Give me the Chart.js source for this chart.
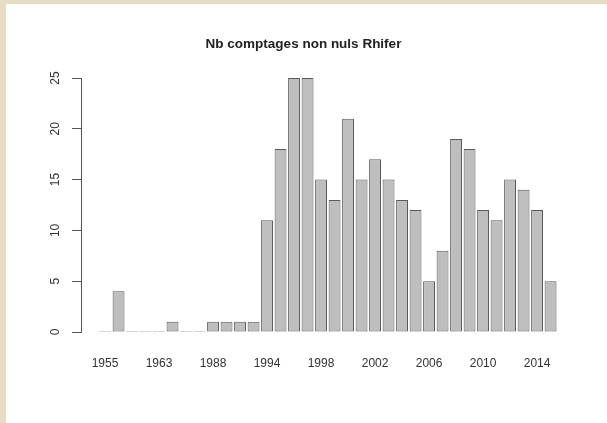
<!DOCTYPE html>
<html>
<head>
<meta charset="utf-8">
<script src="https://cdn.jsdelivr.net/npm/chart.js@4/dist/chart.umd.min.js"></script>
<style>
  html, body { margin: 0; padding: 0; background: #e6ddc6; }
  #panel { position: absolute; left: 6px; top: 4px; width: 601px; height: 419px; background: #fff; }
  #myChart { position: absolute; left: 0; top: 0; }
</style>
</head>
<body>
<div id="panel"></div>
<canvas id="myChart" width="607" height="423"></canvas>
<script>
// years shown under the bars (only every 4th one is labelled in the picture)
var years = ["1955", "1956", "1957", "1958", "1963", "1964", "1975", "1980",
  "1988", "1989", "1990", "1991",
  "1994", "1995", "1996", "1997", "1998", "1999", "2000", "2001",
  "2002", "2003", "2004", "2005", "2006", "2007", "2008", "2009",
  "2010", "2011", "2012", "2013", "2014", "2015"];
var counts = [0, 4, 0, 0, 0, 1, 0, 0,
  1, 1, 1, 1,
  11, 18, 25, 25, 15, 13, 21, 15,
  17, 15, 13, 12, 5, 8, 19, 18,
  12, 11, 15, 14, 12, 5];
var yTicks = [0, 5, 10, 15, 20, 25];
var chartTitle = "Nb comptages non nuls Rhifer";

var ctx = document.getElementById("myChart").getContext('2d');
var myChart = new Chart(ctx, {
  type: 'bar',
  data: {
    datasets: [{
      data: counts.map(function (v, i) { return { x: i, y: v }; }),
      backgroundColor: "#bebebe",
      borderColor: "#5a5a5a",
      borderWidth: 1,
      borderSkipped: false,
      minBarLength: 1,
      categoryPercentage: 1,
      barPercentage: 0.88
    }]
  },
  options: {
    responsive: false,
    animation: false,
    layout: { padding: 0 },
    plugins: {
      legend: { display: false },
      tooltip: { enabled: false },
      title: {
        display: true,
        text: chartTitle,
        color: "#222",
        font: { family: "Liberation Sans, Arial, sans-serif", size: 13.5, weight: 'bold' },
        padding: { top: 36, bottom: 25.8 }
      }
    },
    scales: {
      x: {
        type: 'linear',
        offset: false,
        min: -1.78,
        max: 37.18,
        grid: { display: false, offset: false },
        border: { display: false },
        afterBuildTicks: function (scale) {
          scale.ticks = years.map(function (y, i) { return { value: i }; })
            .filter(function (t) { return t.value % 4 === 0; });
        },
        afterFit: function (scale) {
          scale.height = 91;
          scale.paddingLeft = 0;
          scale.paddingRight = 0;
        },
        ticks: {
          autoSkip: false,
          maxRotation: 0,
          padding: 16,
          color: "#333",
          font: { family: "Liberation Sans, Arial, sans-serif", size: 12 },
          callback: function (value) { return years[value]; }
        }
      },
      y: {
        min: 0,
        max: 25,
        afterBuildTicks: function (scale) {
          scale.ticks = yTicks.map(function (v) { return { value: v }; });
        },
        afterFit: function (scale) {
          scale.width = 81;
          scale.paddingTop = 0;
          scale.paddingBottom = 0;
        },
        border: { display: true, color: "#555", width: 1 },
        grid: { drawOnChartArea: false, drawTicks: true, tickLength: 9, color: "#555" },
        ticks: {
          minRotation: 90,
          maxRotation: 90,
          crossAlign: 'center',
          padding: 10,
          color: "#333",
          font: { family: "Liberation Sans, Arial, sans-serif", size: 12 }
        }
      }
    }
  }
});
</script>
</body>
</html>
